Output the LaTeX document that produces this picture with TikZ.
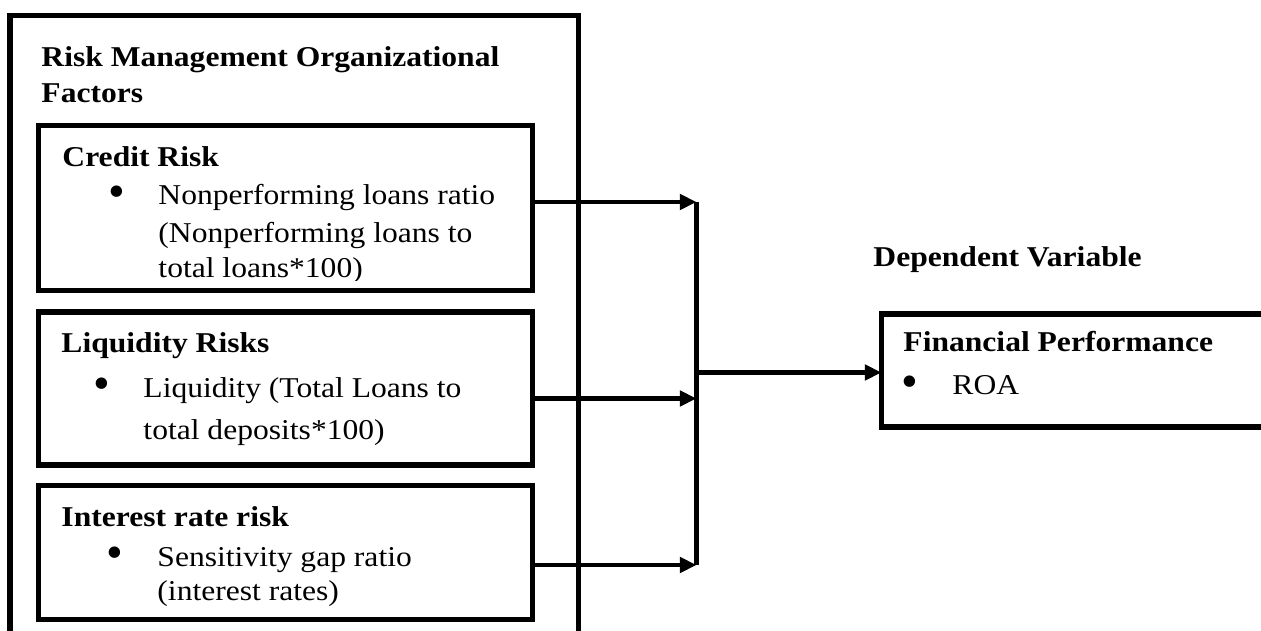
\documentclass[tikz,border=0pt]{standalone}
\usepackage{fontspec}
\setmainfont[FakeStretch=1.1]{Liberation Serif}
\newfontfamily\dotfont{Liberation Serif}
\usetikzlibrary{arrows.meta, fit}

\begin{document}
\begin{tikzpicture}[x=0.418pt, y=-0.418pt]
    % Setup the styles for the boxes, the texts and the arrows
    \tikzset{box style/.style={draw, line width=2.1pt, inner sep=0pt, outer sep=0pt},
             text style/.style={anchor=base west, inner sep=0pt,
                                font=\fontsize{12}{14}\selectfont},
             head style/.style={text style, font=\fontsize{12}{14}\selectfont\bfseries},
             dot style/.style={anchor=center, inner sep=0pt,
                               font=\dotfont\fontsize{20}{20}\selectfont},
             link style/.style={line width=1.8pt},
             arrow style/.style={link style, -{Triangle[length=7pt, width=6.4pt]}}}

    % The page
    \clip (0, 0) rectangle (1261, 631);

    % Draw the boxes
    \node[box style, fit={(10, 15.5) (578.5, 660)}]      (factors)   {};
    \node[box style, fit={(38.5, 125.5) (532.5, 290.5)}] (credit)    {};
    \node[box style, fit={(38.5, 312) (532.5, 465)}]     (liquidity) {};
    \node[box style, fit={(38.5, 485.5) (532.5, 619.5)}] (interest)  {};
    \node[box style, fit={(881.5, 314) (1300, 427)}]     (perf)      {};

    % Texts of the independent variables
    \node[head style] at (41, 67)  (title a) {Risk Management Organizational};
    \node[head style] at (41, 103) (title b) {Factors};

    \node[head style] at (62, 167)  (credit head)   {Credit Risk};
    \node[dot style]  at (117, 197) (credit dot)    {•};
    \node[text style] at (158, 205) (credit line a) {Nonperforming loans ratio};
    \node[text style] at (158, 243) (credit line b) {(Nonperforming loans to};
    \begin{scope}
        \clip (38.5, 125.5) rectangle (532.5, 280.5);
        \node[text style] at (158, 278) (credit line c) {total loans*100)};
    \end{scope}

    \node[head style] at (61, 353)  (liquidity head)   {Liquidity Risks};
    \node[dot style]  at (102, 389) (liquidity dot)    {•};
    \node[text style] at (143, 398) (liquidity line a) {Liquidity (Total Loans to};
    \node[text style] at (143, 440) (liquidity line b) {total deposits*100)};

    \node[head style] at (61, 527)  (interest head)   {Interest rate risk};
    \node[dot style]  at (115, 558) (interest dot)    {•};
    \node[text style] at (157, 567) (interest line a) {Sensitivity gap ratio};
    \node[text style] at (157, 600) (interest line b) {(interest rates)};

    % Texts of the dependent variable
    \node[head style] at (873, 267) (dependent) {Dependent Variable};
    \node[head style] at (903, 352) (perf head) {Financial Performance};
    \node[dot style]  at (910, 387) (perf dot)  {•};
    \node[text style] at (952, 395) (perf line) {ROA};

    % Connect the boxes with arrows
    \coordinate (hub top) at (696.5, 202);
    \coordinate (hub mid) at (696.5, 398.5);
    \coordinate (hub low) at (696.5, 565);
    \coordinate (hub out) at (696.5, 372.5);

    \draw[arrow style] (credit.east |- hub top)    -- (hub top);
    \draw[arrow style] (liquidity.east |- hub mid) -- (hub mid);
    \draw[arrow style] (interest.east |- hub low)  -- (hub low);
    \draw[link style]  (hub top) -- (hub low);
    \draw[arrow style] (hub out) -- (perf.west |- hub out);
\end{tikzpicture}
\end{document}
